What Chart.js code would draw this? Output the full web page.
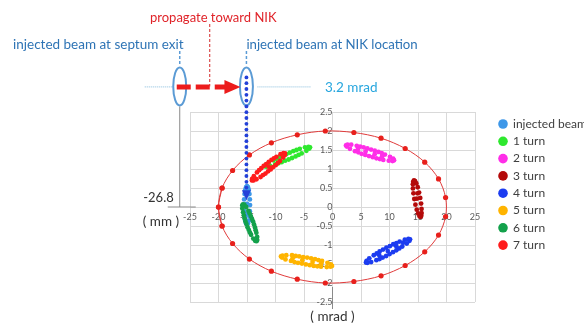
<!DOCTYPE html>
<html>
<head>
<meta charset="utf-8">
<script src="https://cdn.jsdelivr.net/npm/chart.js@4.4.1/dist/chart.umd.min.js"></script>
<style>
  html, body { margin: 0; padding: 0; background: #ffffff; }
  #wrap { width: 584px; height: 324px; position: relative; }
</style>
</head>
<body>
<div id="wrap"><canvas id="phase" width="584" height="324"></canvas></div>
<script>
// Phase-space turns of the injected beam (x in mm, x' in mrad)
const seriesLabels = ['injected beam', '1 turn', '2 turn', '3 turn', '4 turn', '5 turn', '6 turn', '7 turn'];
const seriesColors = ['#3d97e8', '#2ee82e', '#ff2ee8', '#b40a0a', '#1c3cf0', '#ffb400', '#13a14b', '#ff1c1c'];

const xTicks = [-25, -20, -15, -10, -5, 0, 5, 10, 15, 20, 25];
const yTicks = [-2.5, -2, -1.5, -1, -0.5, 0, 0.5, 1, 1.5, 2, 2.5];

// Injection point at the septum exit and the kick angle at the NIK
const septumPos = -26.8;
const nikPos = -15.1;
const kickAngle = 3.2;

const injectedX = [-15.00, -14.84, -14.69, -14.57, -14.50, -14.47, -14.50, -14.57, -14.69, -14.84, -15.00, -15.16, -15.31, -15.43, -15.50, -15.53, -15.50, -15.43, -15.31, -15.16, -15.00, -15.00, -15.00];
const injectedY = [0.55, 0.52, 0.45, 0.34, 0.20, 0.05, -0.11, -0.25, -0.36, -0.43, -0.46, -0.43, -0.36, -0.25, -0.11, 0.05, 0.20, 0.34, 0.45, 0.52, 0.32, 0.08, -0.18];

const turn1X = [-3.95, -4.08, -4.58, -5.41, -6.48, -7.69, -8.92, -10.05, -10.97, -11.59, -11.84, -11.71, -11.21, -10.38, -9.31, -8.10, -6.87, -5.74, -4.82, -4.20, -5.95, -7.09, -8.31, -9.49, -9.85, -8.71, -7.49, -6.31];
const turn1Y = [1.57, 1.54, 1.48, 1.41, 1.33, 1.25, 1.18, 1.12, 1.08, 1.06, 1.07, 1.11, 1.16, 1.23, 1.31, 1.39, 1.47, 1.53, 1.57, 1.58, 1.37, 1.29, 1.22, 1.15, 1.27, 1.35, 1.43, 1.50];

const turn2X = [10.79, 10.53, 9.88, 8.91, 7.71, 6.40, 5.10, 3.95, 3.06, 2.52, 2.37, 2.63, 3.28, 4.25, 5.45, 6.76, 8.06, 9.20, 10.09, 10.64, 8.31, 7.06, 5.75, 4.53, 4.85, 6.11, 7.41, 8.63, 4.5, 5.8, 7.4, 8.7];
const turn2Y = [1.23, 1.21, 1.22, 1.24, 1.28, 1.34, 1.40, 1.47, 1.53, 1.59, 1.62, 1.64, 1.64, 1.61, 1.57, 1.51, 1.45, 1.38, 1.32, 1.27, 1.26, 1.31, 1.37, 1.44, 1.59, 1.54, 1.48, 1.42, 1.53, 1.46, 1.39, 1.33];

const turn3X = [14.30, 14.49, 14.71, 14.95, 15.19, 15.39, 15.54, 15.62, 15.63, 15.57, 15.44, 15.25, 15.02, 14.78, 14.55, 14.35, 14.20, 14.11, 14.10, 14.17, 14.8, 14.9];
const turn3Y = [0.70, 0.68, 0.62, 0.52, 0.38, 0.24, 0.09, -0.05, -0.16, -0.23, -0.26, -0.24, -0.17, -0.07, 0.06, 0.21, 0.36, 0.49, 0.60, 0.67, 0.22, 0.36];

const turn4X = [13.60, 13.50, 13.03, 12.24, 11.20, 10.02, 8.81, 7.70, 6.78, 6.15, 5.88, 5.98, 6.45, 7.24, 8.27, 9.45, 10.66, 11.78, 12.69, 13.32, 11.72, 10.61, 9.42, 8.26, 7.76, 8.86, 10.06, 11.22, 8.2, 9.7, 11.2, 12.4];
const turn4Y = [-0.85, -0.89, -0.96, -1.04, -1.14, -1.24, -1.33, -1.40, -1.45, -1.47, -1.46, -1.42, -1.35, -1.27, -1.17, -1.07, -0.98, -0.91, -0.86, -0.84, -1.09, -1.19, -1.29, -1.37, -1.22, -1.12, -1.03, -0.95, -1.27, -1.16, -1.04, -0.94];

const turn5X = [-0.09, -0.34, -1.01, -2.02, -3.29, -4.67, -6.05, -7.28, -8.25, -8.85, -9.04, -8.78, -8.11, -7.10, -5.84, -4.45, -3.07, -1.84, -0.88, -0.27, -2.66, -3.98, -5.36, -6.67, -6.47, -5.15, -3.76, -2.46, -7.0, -5.3, -3.5, -2.0];
const turn5Y = [-1.55, -1.57, -1.58, -1.57, -1.55, -1.51, -1.47, -1.42, -1.38, -1.33, -1.30, -1.28, -1.27, -1.27, -1.30, -1.33, -1.37, -1.42, -1.47, -1.51, -1.56, -1.53, -1.49, -1.45, -1.29, -1.32, -1.35, -1.40, -1.35, -1.40, -1.45, -1.49];

const turn6X = [-15.70, -15.47, -15.14, -14.75, -14.34, -13.94, -13.60, -13.36, -13.22, -13.21, -13.33, -13.57, -13.90, -14.29, -14.70, -15.10, -15.43, -15.68, -15.82, -15.82, -14.55, -14.14, -13.77, -13.48, -14.50, -14.90, -15.27, -15.56];
const turn6Y = [0.07, 0.06, 0.00, -0.10, -0.24, -0.38, -0.54, -0.68, -0.79, -0.87, -0.90, -0.89, -0.83, -0.73, -0.60, -0.45, -0.30, -0.14, -0.04, 0.04, -0.17, -0.31, -0.46, -0.61, -0.67, -0.53, -0.38, -0.22];

const turn7X = [-8.34, -8.36, -8.66, -9.21, -9.97, -10.84, -11.76, -12.62, -13.34, -13.86, -14.13, -14.10, -13.80, -13.25, -12.50, -11.62, -10.71, -9.84, -9.12, -8.60, -9.59, -10.41, -11.30, -12.19, -12.88, -12.06, -11.17, -10.28, -11.2];
const turn7Y = [1.41, 1.37, 1.30, 1.21, 1.10, 0.99, 0.88, 0.79, 0.73, 0.70, 0.70, 0.74, 0.81, 0.91, 1.02, 1.13, 1.24, 1.32, 1.39, 1.42, 1.16, 1.05, 0.94, 0.84, 0.97, 1.08, 1.19, 1.28, 1.06];

// Acceptance ellipse samples
const ringX = [-20.00, -19.37, -17.53, -14.58, -10.72, -6.18, -1.26, 3.75, 8.52, 12.75, 16.18, 18.60, 19.84, 19.84, 18.60, 16.18, 12.75, 8.52, 3.75, -1.26, -6.18, -10.72, -14.58, -17.53, -19.37];
const ringY = [0.00, -0.50, -0.96, -1.37, -1.69, -1.90, -2.00, -1.96, -1.81, -1.54, -1.18, -0.74, -0.25, 0.25, 0.74, 1.18, 1.54, 1.81, 1.96, 2.00, 1.90, 1.69, 1.37, 0.96, 0.50];

const seriesX = [injectedX, turn1X, turn2X, turn3X, turn4X, turn5X, turn6X, turn7X];
const seriesY = [injectedY, turn1Y, turn2Y, turn3Y, turn4Y, turn5Y, turn6Y, turn7Y];

const toPoints = (xs, ys) => xs.map((v, i) => ({ x: v, y: ys[i] }));

// closed loop: wrap one sample on each side so the spline joins smoothly
const n = ringX.length;
const ringLoop = [{ x: ringX[n - 1], y: ringY[n - 1] }]
  .concat(toPoints(ringX, ringY))
  .concat([{ x: ringX[0], y: ringY[0] }, { x: ringX[1], y: ringY[1] }]);

const datasets = [{
  label: 'ring',
  data: ringLoop,
  showLine: true,
  tension: 0.33,
  borderColor: '#e03a3a',
  borderWidth: 1,
  pointRadius: 2.6,
  pointBackgroundColor: '#e8201c',
  pointBorderWidth: 0,
  order: 20
}];
seriesLabels.forEach((lab, i) => {
  datasets.push({
    label: lab,
    data: toPoints(seriesX[i], seriesY[i]),
    showLine: false,
    pointRadius: 2.4,
    pointBackgroundColor: seriesColors[i],
    pointBorderWidth: 0,
    order: 10 - i
  });
});

const FONT = 'Lato, "Open Sans", sans-serif';

function dashedLine(ctx, x1, y1, x2, y2, color, width, dash) {
  ctx.save();
  ctx.strokeStyle = color;
  ctx.lineWidth = width;
  ctx.setLineDash(dash);
  ctx.beginPath();
  ctx.moveTo(x1, y1);
  ctx.lineTo(x2, y2);
  ctx.stroke();
  ctx.restore();
}

function text(ctx, str, x, y, color, size, align) {
  ctx.save();
  ctx.fillStyle = color;
  ctx.font = size + 'px ' + FONT;
  ctx.textAlign = align || 'left';
  ctx.textBaseline = 'middle';
  ctx.fillText(str, x, y);
  ctx.restore();
}

const beamNotes = {
  id: 'beamNotes',
  afterDatasetsDraw(chart) {
    const { ctx } = chart;
    const xs = chart.scales.x, ys = chart.scales.y;
    const sx = xs.getPixelForValue(septumPos);
    const nx = xs.getPixelForValue(nikPos);
    const by = ys.getPixelForValue(kickAngle);
    const y0 = ys.getPixelForValue(0);

    // guide from the septum beam down to the x axis
    ctx.save();
    ctx.strokeStyle = '#8a8a8a';
    ctx.lineWidth = 1;
    ctx.beginPath();
    ctx.moveTo(sx, by + 21);
    ctx.lineTo(sx, y0);
    ctx.moveTo(sx - 12, y0);
    ctx.lineTo(sx + 16, y0);
    ctx.moveTo(xs.getPixelForValue(0), ys.getPixelForValue(-2.5) - 15);
    ctx.lineTo(xs.getPixelForValue(0), 309);
    ctx.stroke();
    ctx.restore();

    // faint level lines at the kick angle
    dashedLine(ctx, sx - 35, by + 1.5, sx - 6, by + 1.5, '#86bcdc', 1, [1, 1]);
    dashedLine(ctx, nx + 11, by + 1.5, nx + 64, by + 1.5, '#86bcdc', 1, [1, 1]);

    // leaders from the captions to the beam ellipses
    dashedLine(ctx, sx, 51, sx, 66, '#5b9bd5', 1.5, [3, 2]);
    dashedLine(ctx, nx, 51, nx, 66, '#5b9bd5', 1.5, [3, 2]);
    dashedLine(ctx, sx + 30, 24, sx + 30, by + 1, '#d42a2a', 1, [3, 2]);

    // beam ellipses at the septum exit and the NIK
    ctx.save();
    ctx.strokeStyle = '#5b9bd5';
    ctx.lineWidth = 2;
    [sx, nx].forEach(cx => {
      ctx.beginPath();
      ctx.ellipse(cx, by + 1, 6.5, 19, 0, 0, Math.PI * 2);
      ctx.stroke();
    });
    ctx.restore();

    // propagation arrow
    dashedLine(ctx, sx - 3, by + 1.5, nx - 21, by + 1.5, '#ec1c1c', 5, [14, 5]);
    ctx.save();
    ctx.fillStyle = '#ec1c1c';
    ctx.beginPath();
    ctx.moveTo(nx - 22, by - 5.5);
    ctx.lineTo(nx - 6, by + 1.5);
    ctx.lineTo(nx - 22, by + 8.5);
    ctx.closePath();
    ctx.fill();
    ctx.restore();

    // kicked beam: dotted path down into the phase space
    const yEnd = ys.getPixelForValue(0.45);
    ctx.save();
    ctx.fillStyle = '#2340d8';
    for (let yy = by - 8; yy <= yEnd; yy += 5.8) {
      ctx.beginPath();
      ctx.arc(nx, yy, 1.9, 0, Math.PI * 2);
      ctx.fill();
    }
    const tip = ys.getPixelForValue(0.18);
    ctx.beginPath();
    ctx.moveTo(nx - 4.5, tip - 10);
    ctx.lineTo(nx + 4.5, tip - 10);
    ctx.lineTo(nx, tip);
    ctx.closePath();
    ctx.fill();
    ctx.restore();

    // captions
    text(ctx, 'propagate toward NIK', 150, 18, '#e0242a', 13);
    text(ctx, 'injected beam at septum exit', 13, 45, '#2e74b5', 13.5);
    text(ctx, 'injected beam at NIK location', nx, 45, '#2e74b5', 13.2);
    text(ctx, kickAngle + ' mrad', 325, by + 2, '#27a6de', 13.5);
    text(ctx, String(septumPos), sx - 6, y0 - 9, '#333333', 13, 'right');
    text(ctx, '( mm )', sx - 37, y0 + 15, '#333333', 13.5);
    text(ctx, '( mrad )', xs.getPixelForValue(0), 317, '#333333', 13.5, 'center');
  },
  afterDraw(chart) {
    // series key on the right
    const { ctx } = chart;
    seriesLabels.forEach((lab, i) => {
      const cy = 124 + i * 17.3;
      ctx.save();
      ctx.fillStyle = seriesColors[i];
      ctx.beginPath();
      ctx.arc(503, cy, 4.8, 0, Math.PI * 2);
      ctx.fill();
      ctx.restore();
      text(ctx, lab, 513, cy, '#404040', 12);
    });
  }
};

const tickFont = { family: FONT, size: 9 };
const plainLabel = v => String(v);

new Chart(document.getElementById('phase'), {
  type: 'scatter',
  data: { datasets },
  options: {
    responsive: false,
    animation: false,
    events: [],
    layout: { padding: { left: 190, right: 109, top: 112, bottom: 22 } },
    plugins: { legend: { display: false }, tooltip: { enabled: false } },
    scales: {
      x: {
        type: 'linear',
        min: xTicks[0],
        max: xTicks[xTicks.length - 1],
        position: { y: 0 },
        afterBuildTicks: s => { s.ticks = xTicks.map(v => ({ value: v })); },
        ticks: { color: '#595959', font: tickFont, padding: 5, maxRotation: 0, autoSkip: false, callback: plainLabel },
        grid: { color: '#d9d9d9', drawTicks: false },
        border: { display: false }
      },
      y: {
        type: 'linear',
        min: yTicks[0],
        max: yTicks[yTicks.length - 1],
        position: { x: 0 },
        afterBuildTicks: s => { s.ticks = yTicks.map(v => ({ value: v })); },
        ticks: { color: '#595959', font: tickFont, padding: 5, autoSkip: false, callback: plainLabel },
        grid: { color: '#d9d9d9', drawTicks: false },
        border: { display: false }
      }
    }
  },
  plugins: [beamNotes]
});
</script>
</body>
</html>
